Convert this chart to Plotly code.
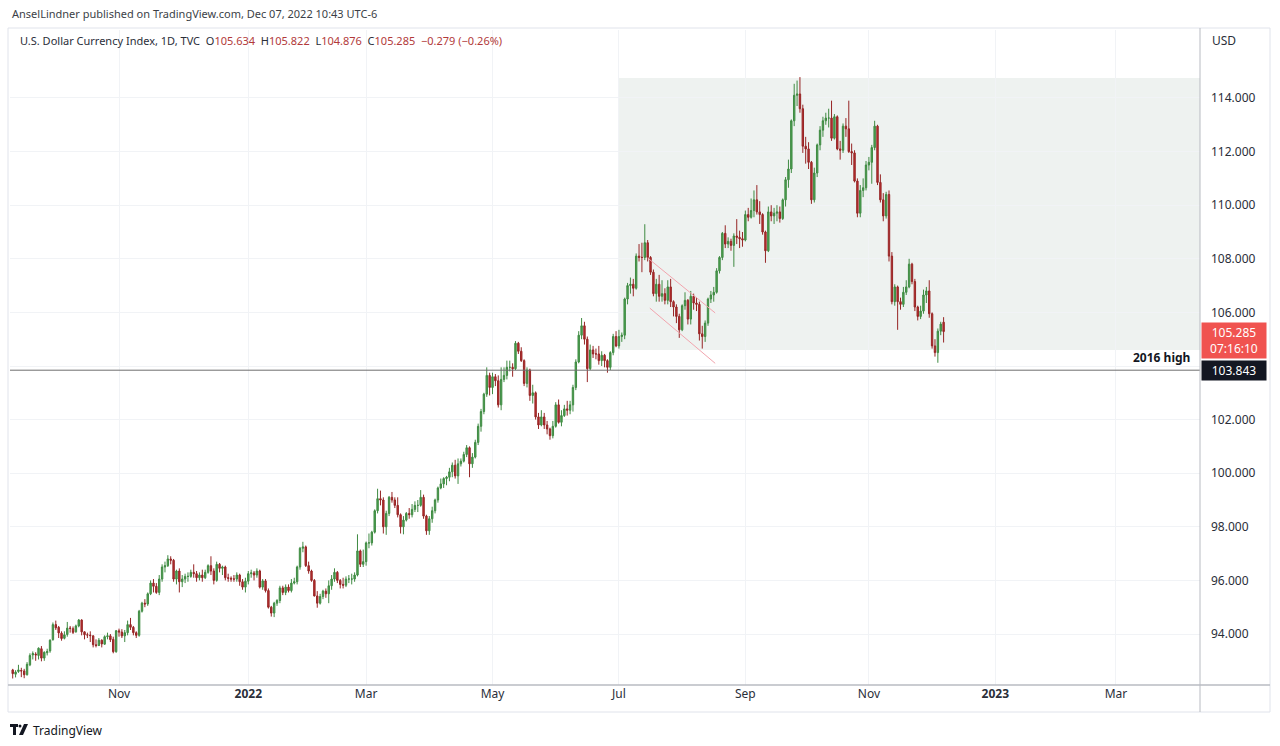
import pandas as pd
import plotly.graph_objects as go

# ---------------- data (TVC:DXY daily) ----------------
open_ = [
    92.66, 92.50, 92.60, 92.64, 92.62, 92.48, 92.85, 93.22, 93.25, 93.20, 93.45, 93.10, 93.30, 93.37, 93.79, 94.35,
    94.25, 94.03, 93.84, 93.98, 94.22, 94.20, 94.08, 94.30, 94.52, 94.08, 93.97, 93.96, 93.93, 93.60, 93.57, 93.77, 93.62, 93.90, 93.93, 93.80, 93.34,
    94.12, 94.07, 93.93, 94.05, 94.35, 94.25, 94.05, 93.95, 94.85, 95.15, 95.12, 95.50, 95.90, 95.78, 95.55, 96.05, 96.50, 96.55, 96.80, 96.75, 96.05, 96.35,
    95.95, 96.05, 96.15, 96.15, 96.30, 96.25, 96.10, 96.20, 96.10, 96.30, 96.55, 96.35, 96.00, 96.60, 96.45, 96.50, 96.10, 96.08, 96.05, 96.05, 96.20, 95.95, 95.75,
    95.97, 96.25, 96.28, 96.20, 96.35, 95.75, 95.98, 95.62, 95.00, 94.78, 95.15, 95.25, 95.72, 95.55, 95.75, 95.62, 95.90, 95.95, 96.50, 97.20, 97.25,
    96.55, 96.35, 96.00, 95.42, 95.15, 95.40, 95.60, 95.50, 95.80, 96.05, 96.30, 96.00, 95.85, 95.82, 96.05, 96.05, 96.05, 96.20, 97.10, 96.60,
    96.70, 97.40, 97.40, 97.80, 98.60, 99.05, 99.00, 98.00, 98.50, 99.10, 99.00, 98.80, 98.45, 98.00, 98.25, 98.50, 98.45, 98.65, 98.80, 98.80, 99.10, 98.40, 97.85,
    98.30, 98.60, 99.00, 99.45, 99.60, 99.80, 99.85, 100.05, 100.30, 99.90, 100.35, 100.45, 100.70, 100.95, 100.35, 100.60, 101.15, 101.75, 102.30, 102.95, 103.65,
    103.20, 103.60, 103.45, 102.55, 103.50, 103.65, 103.95, 103.95, 103.90, 104.85, 104.55, 104.20, 103.35, 103.85, 102.90, 103.00, 102.10, 101.80, 102.10, 101.80, 101.65, 101.40,
    101.75, 102.55, 101.90, 102.15, 102.40, 102.35, 102.55, 103.20, 104.15, 105.15, 105.50, 105.00, 103.90, 104.60, 104.45, 104.45, 104.20, 104.40, 104.20, 103.95, 104.50, 105.10,
    104.75, 105.10, 105.15, 106.50, 107.00, 107.05, 106.90, 108.10, 108.05, 108.05, 108.60, 108.05, 107.50, 106.70, 107.05, 106.60, 106.70, 106.45, 106.95, 106.40, 106.20,
    105.85, 105.35, 106.25, 106.45, 105.75, 106.60, 106.35, 106.30, 105.20, 105.10, 105.60, 106.50, 106.65, 106.75, 107.55, 108.05, 108.95, 108.55, 108.65, 108.50, 108.85, 108.80, 108.75,
    108.70, 109.65, 109.55, 109.80, 110.20, 109.75, 109.65, 109.00, 108.30, 109.75, 109.60, 109.70, 109.75, 109.50, 110.20, 110.95, 111.35, 113.15, 114.10, 114.15, 113.60, 112.20,
    112.10, 111.60, 110.20, 111.20, 112.25, 112.80, 113.15, 113.25, 113.25, 112.50, 113.30, 112.10, 112.05, 112.95, 112.85, 112.00, 111.95, 110.90, 109.70, 110.55, 110.65,
    111.50, 111.60, 112.15, 112.95, 110.85, 110.20, 109.60, 110.40, 108.10, 106.40, 106.95, 106.40, 106.30, 106.75, 106.95, 107.80, 107.15, 106.20, 105.85, 106.05, 106.65, 106.80,
    105.95, 104.75, 104.50, 105.30, 105.634,
]
high = [
    92.70, 92.65, 92.85, 92.74, 92.70, 92.95, 93.28, 93.35, 93.32, 93.50, 93.55, 93.35, 93.45, 93.80, 94.43, 94.50,
    94.30, 94.10, 94.10, 94.45, 94.30, 94.28, 94.35, 94.56, 94.55, 94.10, 94.05, 94.10, 93.95, 93.80, 93.85, 93.80, 93.95, 94.05, 94.00, 93.90, 94.15,
    94.20, 94.18, 94.15, 94.50, 94.60, 94.30, 94.10, 94.90, 95.20, 95.30, 95.55, 96.00, 96.05, 95.90, 96.20, 96.60, 96.70, 96.94, 96.90, 96.80, 96.40, 96.45,
    96.20, 96.25, 96.30, 96.40, 96.60, 96.35, 96.30, 96.40, 96.40, 96.60, 96.90, 96.45, 96.70, 96.65, 96.55, 96.55, 96.25, 96.15, 96.20, 96.30, 96.25, 96.05, 96.10,
    96.35, 96.40, 96.35, 96.45, 96.40, 96.05, 96.05, 95.70, 95.05, 95.20, 95.30, 95.80, 95.80, 95.85, 95.85, 96.05, 96.10, 96.55, 97.25, 97.44, 97.30,
    96.70, 96.40, 96.05, 95.60, 95.50, 95.65, 95.70, 96.00, 96.20, 96.45, 96.35, 96.05, 96.10, 96.15, 96.20, 96.25, 96.30, 97.72, 97.15, 97.15,
    97.45, 97.75, 97.85, 98.65, 99.42, 99.35, 99.10, 98.60, 99.15, 99.30, 99.10, 99.10, 98.50, 98.40, 98.55, 98.70, 98.85, 98.95, 99.00, 99.37, 99.20, 98.45, 98.40,
    98.75, 99.05, 99.50, 99.80, 99.85, 99.90, 100.20, 100.40, 100.50, 100.55, 100.55, 100.80, 101.05, 101.00, 100.75, 101.25, 101.85, 102.40, 103.00, 103.95, 103.75,
    103.75, 103.70, 103.65, 103.95, 103.95, 104.20, 104.20, 104.10, 104.93, 104.90, 104.70, 104.25, 103.95, 103.90, 103.30, 103.05, 102.25, 102.35, 102.25, 101.95, 101.70, 101.95,
    102.65, 102.75, 102.35, 102.55, 102.70, 102.70, 103.30, 104.25, 105.30, 105.79, 105.65, 105.10, 104.80, 104.75, 104.65, 104.75, 104.55, 104.45, 104.25, 104.55, 105.20, 105.30,
    105.35, 105.25, 106.55, 107.10, 107.30, 107.25, 108.20, 108.55, 108.60, 109.29, 108.70, 108.10, 107.60, 107.25, 107.40, 107.20, 106.90, 107.20, 107.25, 106.45, 106.30,
    105.95, 106.30, 106.75, 106.50, 106.80, 106.70, 106.55, 106.40, 105.50, 105.70, 106.55, 106.80, 106.95, 107.65, 108.10, 109.00, 109.25, 108.80, 108.75, 108.95, 109.48, 109.05, 109.00,
    109.80, 109.90, 110.25, 110.55, 110.75, 110.15, 109.70, 109.05, 109.95, 110.00, 109.90, 110.00, 109.95, 110.25, 111.05, 111.70, 113.20, 114.53, 114.65, 114.78, 113.75, 112.55,
    112.35, 111.65, 111.40, 112.30, 112.95, 113.30, 113.45, 113.60, 113.90, 113.40, 113.35, 112.40, 113.05, 113.25, 113.90, 112.30, 112.05, 111.00, 110.75, 111.00, 111.65,
    111.80, 112.25, 113.15, 113.00, 111.15, 110.45, 110.50, 110.55, 108.25, 107.05, 107.00, 106.55, 106.95, 107.20, 108.00, 107.85, 107.25, 106.25, 106.25, 106.85, 106.95, 107.20,
    106.00, 105.00, 105.40, 105.65, 105.822,
]
low = [
    92.34, 92.38, 92.55, 92.39, 92.35, 92.45, 92.80, 93.05, 93.00, 93.05, 92.98, 93.00, 93.20, 93.30, 93.75, 94.15,
    93.85, 93.75, 93.80, 93.90, 94.05, 94.00, 94.05, 94.25, 93.95, 93.80, 93.85, 93.70, 93.50, 93.50, 93.55, 93.50, 93.60, 93.80, 93.70, 93.28, 93.30,
    93.90, 93.85, 93.70, 93.95, 94.15, 93.95, 93.85, 93.90, 94.80, 95.00, 95.05, 95.45, 95.55, 95.50, 95.45, 95.95, 96.30, 96.50, 96.60, 95.95, 95.85, 95.55,
    95.75, 95.90, 95.95, 96.10, 96.10, 95.95, 96.00, 95.95, 96.05, 96.25, 96.20, 95.85, 95.95, 96.30, 96.20, 96.00, 95.95, 95.95, 95.95, 95.95, 95.80, 95.65, 95.55,
    95.85, 96.10, 96.00, 96.10, 95.70, 95.65, 95.55, 94.95, 94.65, 94.63, 95.05, 95.15, 95.45, 95.45, 95.55, 95.55, 95.85, 95.85, 96.40, 97.05, 96.50,
    96.25, 95.95, 95.40, 94.98, 95.10, 95.30, 95.35, 95.15, 95.65, 95.95, 95.90, 95.70, 95.70, 95.75, 95.90, 95.85, 95.95, 96.15, 96.50, 96.50,
    96.55, 97.20, 97.30, 97.75, 98.50, 98.80, 97.75, 97.70, 98.40, 98.90, 98.70, 98.35, 97.75, 97.72, 98.20, 98.30, 98.35, 98.55, 98.55, 98.75, 98.30, 97.70, 97.70,
    98.15, 98.50, 98.90, 99.40, 99.45, 99.55, 99.70, 99.85, 99.80, 99.60, 100.25, 100.40, 100.60, 99.85, 100.20, 100.55, 101.05, 101.55, 102.20, 102.85, 102.90,
    102.95, 103.25, 102.45, 102.35, 103.40, 103.50, 103.80, 103.60, 103.85, 104.45, 104.15, 103.25, 103.20, 102.70, 102.60, 102.00, 101.65, 101.75, 101.65, 101.45, 101.25, 101.30,
    101.70, 101.85, 101.75, 102.10, 102.15, 102.20, 102.30, 103.10, 104.10, 105.00, 104.80, 103.40, 103.85, 104.30, 104.25, 104.05, 104.00, 103.95, 103.75, 103.85, 104.40, 104.70,
    104.65, 104.90, 105.00, 106.30, 106.70, 106.60, 106.85, 107.90, 107.50, 107.95, 107.90, 107.40, 106.60, 106.40, 106.40, 106.40, 106.30, 106.30, 106.20, 105.85, 105.60,
    105.05, 105.30, 106.10, 105.55, 105.55, 106.10, 106.05, 104.95, 104.65, 104.90, 105.50, 106.35, 106.40, 106.70, 107.45, 107.95, 108.40, 108.40, 108.30, 107.70, 108.55, 108.40, 108.45,
    108.65, 109.40, 109.50, 109.55, 109.65, 109.30, 108.90, 107.85, 108.25, 109.40, 109.30, 109.40, 109.35, 109.45, 109.95, 110.65, 111.20, 112.95, 113.70, 113.45, 111.95, 111.55,
    111.35, 110.05, 110.10, 111.05, 112.05, 112.55, 113.00, 112.90, 112.40, 112.45, 112.05, 111.70, 111.95, 112.55, 111.95, 111.50, 110.85, 109.55, 109.55, 110.30, 110.55,
    111.30, 110.80, 112.05, 110.75, 110.10, 109.40, 109.50, 107.90, 106.30, 106.25, 105.35, 106.10, 106.20, 106.65, 106.90, 107.05, 106.05, 105.70, 105.75, 105.95, 106.35, 105.80,
    104.65, 104.35, 104.12, 105.15, 104.876,
]
close = [
    92.52, 92.58, 92.66, 92.62, 92.48, 92.87, 93.20, 93.27, 93.22, 93.47, 93.10, 93.32, 93.35, 93.77, 94.35, 94.23,
    94.04, 93.83, 93.97, 94.22, 94.21, 94.06, 94.30, 94.52, 94.08, 93.97, 93.96, 93.94, 93.60, 93.57, 93.77, 93.63, 93.90, 93.93, 93.79, 93.34, 94.12,
    94.07, 93.93, 94.05, 94.35, 94.25, 94.05, 93.95, 94.85, 95.15, 95.12, 95.50, 95.90, 95.78, 95.55, 96.05, 96.50, 96.55, 96.80, 96.75, 96.05, 96.35, 95.95,
    96.05, 96.15, 96.15, 96.30, 96.25, 96.10, 96.20, 96.10, 96.30, 96.55, 96.35, 96.00, 96.60, 96.45, 96.50, 96.10, 96.08, 96.05, 96.05, 96.20, 95.95, 95.75, 95.97,
    96.25, 96.28, 96.20, 96.35, 95.75, 95.98, 95.62, 95.00, 94.78, 95.15, 95.25, 95.72, 95.55, 95.75, 95.62, 95.90, 95.95, 96.50, 97.20, 97.25, 96.55,
    96.35, 96.00, 95.42, 95.15, 95.40, 95.60, 95.50, 95.80, 96.05, 96.30, 96.00, 95.85, 95.82, 96.05, 96.05, 96.05, 96.20, 97.10, 96.60, 96.70,
    97.40, 97.40, 97.80, 98.60, 99.05, 99.00, 98.00, 98.50, 99.10, 99.00, 98.80, 98.45, 98.00, 98.25, 98.50, 98.45, 98.65, 98.80, 98.80, 99.10, 98.40, 97.85, 98.30,
    98.60, 99.00, 99.45, 99.60, 99.80, 99.85, 100.05, 100.30, 99.90, 100.35, 100.45, 100.70, 100.95, 100.35, 100.60, 101.15, 101.75, 102.30, 102.95, 103.65, 103.20,
    103.60, 103.45, 102.55, 103.50, 103.65, 103.95, 103.95, 103.90, 104.85, 104.55, 104.20, 103.35, 103.85, 102.90, 103.00, 102.10, 101.80, 102.10, 101.80, 101.65, 101.40, 101.75,
    102.55, 101.90, 102.15, 102.40, 102.35, 102.55, 103.20, 104.15, 105.15, 105.50, 105.00, 103.90, 104.60, 104.45, 104.45, 104.20, 104.40, 104.20, 103.95, 104.50, 105.10, 104.75,
    105.10, 105.15, 106.50, 107.00, 107.05, 106.90, 108.10, 108.05, 108.05, 108.60, 108.05, 107.50, 106.70, 107.05, 106.60, 106.70, 106.45, 106.95, 106.40, 106.20, 105.85,
    105.35, 106.25, 106.45, 105.75, 106.60, 106.35, 106.30, 105.20, 105.10, 105.60, 106.50, 106.65, 106.75, 107.55, 108.05, 108.95, 108.55, 108.65, 108.50, 108.85, 108.80, 108.75, 108.70,
    109.65, 109.55, 109.80, 110.20, 109.75, 109.65, 109.00, 108.30, 109.75, 109.60, 109.70, 109.75, 109.50, 110.20, 110.95, 111.35, 113.15, 114.10, 114.15, 113.60, 112.20, 112.10,
    111.60, 110.20, 111.20, 112.25, 112.80, 113.15, 113.25, 113.25, 112.50, 113.30, 112.10, 112.05, 112.95, 112.85, 112.00, 111.95, 110.90, 109.70, 110.55, 110.65, 111.50,
    111.60, 112.15, 112.95, 110.85, 110.20, 109.60, 110.40, 108.10, 106.40, 106.95, 106.40, 106.30, 106.75, 106.95, 107.80, 107.15, 106.20, 105.85, 106.05, 106.65, 106.80, 105.95,
    104.75, 104.50, 105.30, 105.564, 105.285,
]
dates = pd.bdate_range("2021-09-09", "2022-12-07")

tick_dates = ["2021-11-01", "2022-01-03", "2022-03-01", "2022-05-02", "2022-07-01",
              "2022-09-01", "2022-11-01", "2023-01-02", "2023-03-01"]
tick_text = ["Nov", "<b>2022</b>", "Mar", "May", "Jul", "Sep", "Nov", "<b>2023</b>", "Mar"]
y_ticks = [94, 96, 98, 100, 102, 104, 106, 108, 110, 112, 114]
# 104.000 is hidden behind the price labels in the reference
y_tick_text = ["94.000", "96.000", "98.000", "100.000", "102.000", "",
               "106.000", "108.000", "110.000", "112.000", "114.000"]

level_2016_high = 103.843
box_zone = dict(start="2022-07-01", low=104.6, high=114.75)
channel_upper = (("2022-07-15", 108.03), ("2022-08-17 12:00", 105.98))
channel_lower = (("2022-07-15 18:00", 106.16), ("2022-08-17 12:00", 104.10))
countdown = "07:16:10"

# ---------------- figure ----------------
W, H = 1280, 746
FONT = "Noto Sans"
X_RANGE = ["2021-09-08 01:30", "2023-04-11 05:45"]


def px(x):
    return x / W


def py(y):
    return 1 - y / H


fig = go.Figure(go.Candlestick(
    x=dates, open=open_, high=high, low=low, close=close,
    increasing=dict(line=dict(color="#3f8a42", width=1), fillcolor="#4ca552"),
    decreasing=dict(line=dict(color="#962525", width=1), fillcolor="#bf2f2f"),
    whiskerwidth=0, showlegend=False, hoverinfo="skip",
))

shapes = [
    # highlighted zone
    dict(type="rect", xref="x", yref="y", x0=box_zone["start"], x1=X_RANGE[1],
         y0=box_zone["low"], y1=box_zone["high"], fillcolor="#eef2f0", line=dict(width=0), layer="below"),
    # 2016 high line
    dict(type="line", xref="paper", yref="y", x0=px(10), x1=px(1200),
         y0=level_2016_high, y1=level_2016_high, line=dict(color="#6e6e6e", width=1)),
    # falling channel
    dict(type="line", xref="x", yref="y", x0=channel_upper[0][0], y0=channel_upper[0][1],
         x1=channel_upper[1][0], y1=channel_upper[1][1], line=dict(color="#f2a5ae", width=1)),
    dict(type="line", xref="x", yref="y", x0=channel_lower[0][0], y0=channel_lower[0][1],
         x1=channel_lower[1][0], y1=channel_lower[1][1], line=dict(color="#f2a5ae", width=1)),
    # frame
    dict(type="rect", xref="paper", yref="paper", x0=px(8), x1=px(1270), y0=py(712), y1=py(28),
         line=dict(color="#e0e3eb", width=1)),
    dict(type="line", xref="paper", yref="paper", x0=px(1200), x1=px(1200), y0=py(712), y1=py(28),
         line=dict(color="#b8bbc2", width=1)),
    dict(type="line", xref="paper", yref="paper", x0=px(8), x1=px(1270), y0=py(685), y1=py(685),
         line=dict(color="#b8bbc2", width=1.5)),
    # TradingView logo glyph
    dict(type="rect", xref="paper", yref="paper", x0=px(10), x1=px(18), y0=py(727), y1=py(724),
         fillcolor="#131722", line=dict(width=0)),
    dict(type="rect", xref="paper", yref="paper", x0=px(13), x1=px(16), y0=py(735), y1=py(724),
         fillcolor="#131722", line=dict(width=0)),
    dict(type="circle", xref="paper", yref="paper", x0=px(18.5), x1=px(21.5), y0=py(727.5), y1=py(724.5),
         fillcolor="#131722", line=dict(width=0)),
    dict(type="path", xref="paper", yref="paper",
         path=f"M {px(24)} {py(724)} L {px(28)} {py(724)} L {px(23)} {py(735)} L {px(19)} {py(735)} Z",
         fillcolor="#131722", line=dict(width=0)),
]

chg = close[-1] - close[-2]
pct = chg / close[-2] * 100
red = "#b23a3a"
legend_txt = (
    "U.S. Dollar Currency Index, 1D, TVC  "
    f"O<span style='color:{red}'>{open_[-1]:.3f}</span>  "
    f"H<span style='color:{red}'>{high[-1]:.3f}</span>  "
    f"L<span style='color:{red}'>{low[-1]:.3f}</span>  "
    f"C<span style='color:{red}'>{close[-1]:.3f}</span>  "
    f"<span style='color:{red}'>{chg:+.3f} ({pct:+.2f}%)</span>"
).replace("-0", "\u22120")

annotations = [
    dict(text="AnselLindner published on TradingView.com, Dec 07, 2022 10:43 UTC-6",
         xref="paper", yref="paper", x=px(10), y=py(13), xanchor="left", yanchor="middle",
         showarrow=False, font=dict(size=11, color="#3c3f47", family=FONT)),
    dict(text=legend_txt, xref="paper", yref="paper", x=px(18), y=py(40), xanchor="left", yanchor="middle",
         showarrow=False, font=dict(size=11, color="#2a2e39", family=FONT)),
    dict(text="USD", xref="paper", yref="paper", x=px(1210), y=py(40), xanchor="left", yanchor="middle",
         showarrow=False, font=dict(size=12, color="#2a2e39", family=FONT)),
    dict(text="<b>2016 high</b>", xref="paper", yref="y", x=px(1192), y=level_2016_high, xanchor="right",
         yanchor="bottom", yshift=2, showarrow=False, font=dict(size=12, color="#131722", family=FONT)),
    dict(text=f"{close[-1]:.3f}<br>{countdown}", xref="paper", yref="y", x=px(1201), y=close[-1],
         xanchor="left", yanchor="top", yshift=10, showarrow=False, bgcolor="#f05350", width=62,
         borderpad=1, align="center", font=dict(size=12, color="#ffffff", family=FONT)),
    dict(text=f"{level_2016_high:.3f}", xref="paper", yref="y", x=px(1201), y=level_2016_high,
         xanchor="left", yanchor="middle", showarrow=False, bgcolor="#131722", width=62,
         borderpad=1, align="center", font=dict(size=12, color="#ffffff", family=FONT)),
    dict(text="TradingView", xref="paper", yref="paper", x=px(31), y=py(730), xanchor="left",
         yanchor="middle", showarrow=False, font=dict(size=12, color="#131722", family=FONT)),
]

fig.update_layout(
    width=W, height=H, margin=dict(l=0, r=0, t=0, b=0),
    paper_bgcolor="#ffffff", plot_bgcolor="#ffffff",
    font=dict(family=FONT, size=12, color="#2a2e39"),
    showlegend=False, shapes=shapes, annotations=annotations,
    xaxis=dict(
        type="date", domain=[px(10), px(1200)], range=X_RANGE,
        rangebreaks=[dict(bounds=["sat", "mon"])], rangeslider=dict(visible=False),
        tickvals=tick_dates, ticktext=tick_text, ticks="", showgrid=True,
        gridcolor="#f1f3f6", gridwidth=1, zeroline=False, showline=False,
        tickfont=dict(size=12, color="#2a2e39"),
    ),
    yaxis=dict(
        domain=[py(685), py(30)], range=[92.097, 116.537], side="right",
        tickvals=y_ticks, ticktext=y_tick_text, ticks="", showgrid=True,
        gridcolor="#f1f3f6", gridwidth=1, zeroline=False, showline=False,
        tickfont=dict(size=12, color="#2a2e39"), ticklabelstandoff=10,
    ),
)

fig.write_html("out.html")
